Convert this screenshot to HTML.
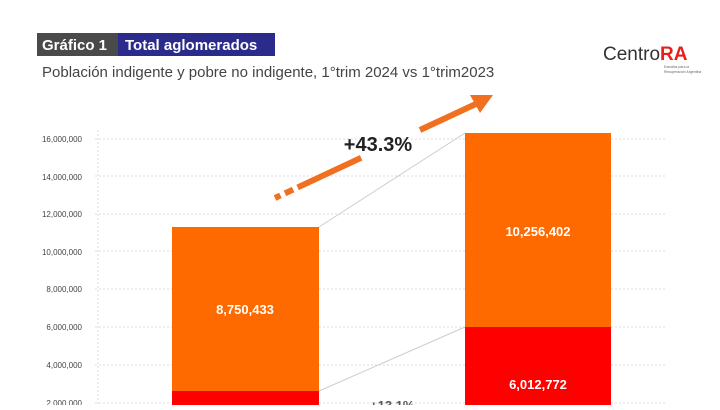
<!DOCTYPE html>
<html><head><meta charset="utf-8"><style>
body{margin:0;width:720px;height:405px;overflow:hidden;background:#fff;font-family:"Liberation Sans",sans-serif;}
</style></head><body>
<svg width="720" height="405" xmlns="http://www.w3.org/2000/svg" font-family="Liberation Sans, sans-serif">
<rect x="37" y="33" width="81" height="23" fill="#4a4a4a"/>
<rect x="118" y="33" width="157" height="23" fill="#2b2b8c"/>
<text x="42" y="50" font-size="15" font-weight="bold" fill="#fff">Gráfico 1</text>
<text x="125" y="50" font-size="15" font-weight="bold" fill="#fff">Total aglomerados</text>
<text x="42" y="77" font-size="15" fill="#444">Población indigente y pobre no indigente, 1°trim 2024 vs 1°trim2023</text>
<text x="603" y="60" font-size="19" fill="#333">Centro<tspan fill="#e8201a" font-weight="bold">RA</tspan></text>
<text x="664" y="68" font-size="3.5" fill="#666">Estudios para la</text>
<text x="664" y="73" font-size="3.5" fill="#666">Recuperación Argentina</text>
<g font-size="8" fill="#444" text-anchor="end">
<text x="82" y="142">16,000,000</text><text x="82" y="180">14,000,000</text>
<text x="82" y="217">12,000,000</text><text x="82" y="255">10,000,000</text>
<text x="82" y="292">8,000,000</text><text x="82" y="330">6,000,000</text>
<text x="82" y="368">4,000,000</text><text x="82" y="406">2,000,000</text>
</g>
<g stroke="#ddd" stroke-dasharray="2,2" stroke-width="1">
<line x1="95" y1="139" x2="665" y2="139"/><line x1="95" y1="176" x2="665" y2="176"/>
<line x1="95" y1="214" x2="665" y2="214"/><line x1="95" y1="251" x2="665" y2="251"/>
<line x1="95" y1="289" x2="665" y2="289"/><line x1="95" y1="327" x2="665" y2="327"/>
<line x1="95" y1="365" x2="665" y2="365"/><line x1="95" y1="403" x2="665" y2="403"/>
<line x1="98" y1="130" x2="98" y2="405"/>
</g>
<line x1="319" y1="227" x2="465" y2="133" stroke="#ccc" stroke-width="1"/>
<line x1="319" y1="391" x2="465" y2="327" stroke="#ccc" stroke-width="1"/>
<rect x="172" y="227" width="147" height="164" fill="#ff6a00"/>
<rect x="172" y="391" width="147" height="20" fill="#ff0000"/>
<rect x="465" y="133" width="146" height="194" fill="#ff6a00"/>
<rect x="465" y="327" width="146" height="80" fill="#ff0000"/>
<g font-size="13" font-weight="bold" fill="#fff" text-anchor="middle">
<text x="245" y="314">8,750,433</text>
<text x="538" y="236">10,256,402</text>
<text x="538" y="389">6,012,772</text>
</g>
<text x="378" y="151" font-size="20" font-weight="bold" fill="#222" text-anchor="middle">+43.3%</text>
<line x1="275" y1="198" x2="365" y2="156" stroke="#f07020" stroke-width="6" stroke-dasharray="6,5,9,5,70,200"/>
<line x1="420" y1="130" x2="478" y2="103" stroke="#f07020" stroke-width="6"/>
<polygon points="493,95 470,95 480,113" fill="#f07020"/>
<text x="370" y="410" font-size="13" font-weight="bold" fill="#555">+13.1%</text>
</svg>
</body></html>
